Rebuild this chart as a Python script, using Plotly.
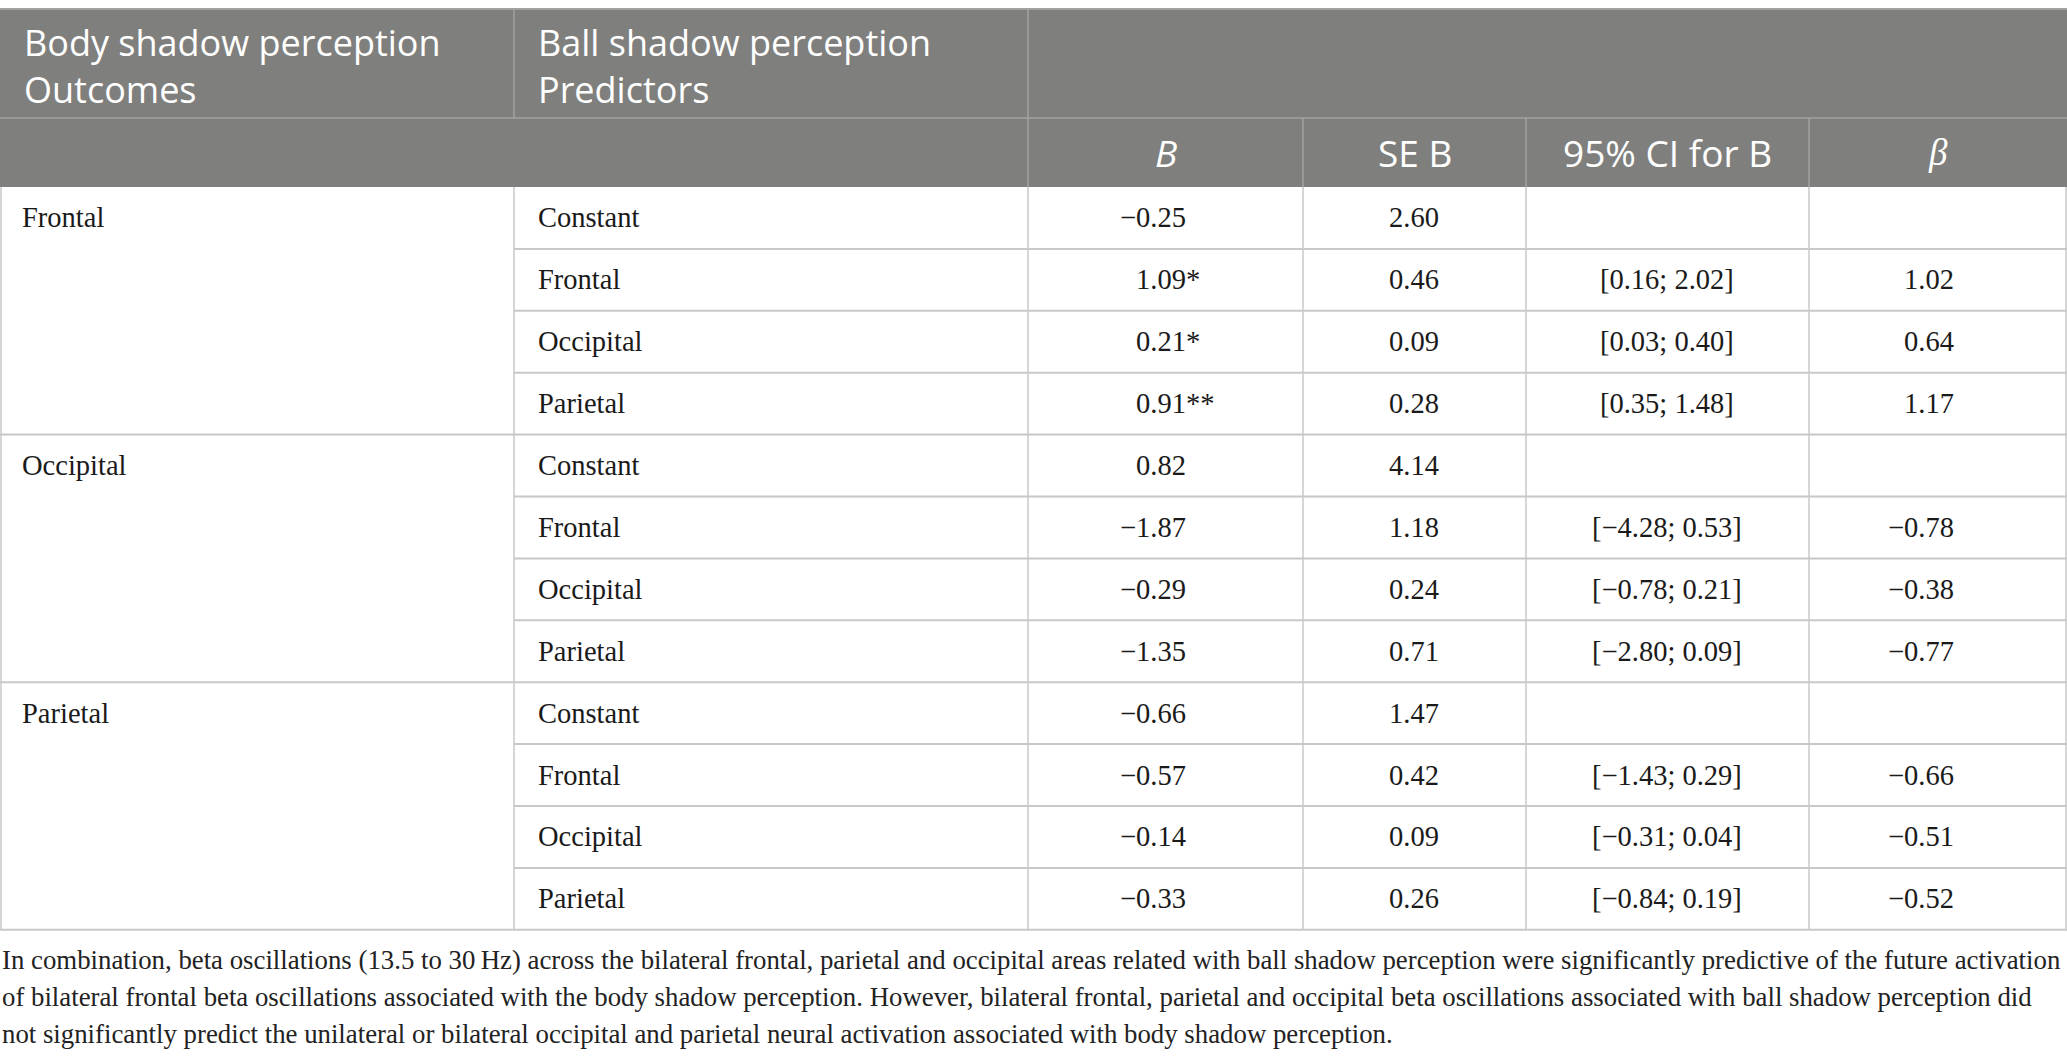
"""Regression table: ball shadow predictors of body shadow beta activity."""

import plotly.graph_objects as go

# --- data -----------------------------------------------------------------
outcomes = ["Frontal", "Occipital", "Parietal"]
predictors = ["Constant", "Frontal", "Occipital", "Parietal"]

b_values = [-0.25, 1.09, 0.21, 0.91, 0.82, -1.87, -0.29, -1.35, -0.66, -0.57, -0.14, -0.33]
b_stars = ["", "*", "*", "**", "", "", "", "", "", "", "", ""]
se_b = [2.60, 0.46, 0.09, 0.28, 4.14, 1.18, 0.24, 0.71, 1.47, 0.42, 0.09, 0.26]
ci_low = [None, 0.16, 0.03, 0.35, None, -4.28, -0.78, -2.80, None, -1.43, -0.31, -0.84]
ci_high = [None, 2.02, 0.40, 1.48, None, 0.53, 0.21, 0.09, None, 0.29, 0.04, 0.19]
beta = [None, 1.02, 0.64, 1.17, None, -0.78, -0.38, -0.77, None, -0.66, -0.51, -0.52]

group_headers = [
    ["Body shadow perception", "Outcomes"],
    ["Ball shadow perception", "Predictors"],
]
stat_headers = ["<i>B</i>", "SE B", "95% CI for B", "<i>β</i>"]

footnote = [
    "In combination, beta oscillations (13.5 to 30\u2009Hz) across the bilateral frontal, "
    "parietal and occipital areas related with ball shadow perception were significantly "
    "predictive of the future activation",
    "of bilateral frontal beta oscillations associated with the body shadow perception. "
    "However, bilateral frontal, parietal and occipital beta oscillations associated with "
    "ball shadow perception did",
    "not significantly predict the unilateral or bilateral occipital and parietal neural "
    "activation associated with body shadow perception.",
]

# --- layout / style -------------------------------------------------------
W, H = 2067, 1062
COL_EDGES = [0, 514, 1028, 1303, 1526, 1809, 2066]
TOP, HEAD1, HEAD2 = 9, 118, 187
ROW_H = 61.9

HEAD_BG = "#7f807e"
HEAD_LINE = "#a2a3a1"
GRID = "#c8c8c8"
SANS = "Open Sans"
SERIF = "Liberation Serif"


def fmt(v: float | None) -> str:
    """Two decimals with a typographic minus sign."""
    if v is None:
        return ""
    return f"{v:.2f}".replace("-", "\u2212")


def line(x0: float, y0: float, x1: float, y1: float, color: str, width: float = 1) -> dict:
    return dict(type="line", x0=x0, y0=y0, x1=x1, y1=y1,
                line=dict(color=color, width=width), layer="above")


def text(x: float, y: float, s: str, anchor: str = "center", size: float = 28.5,
         family: str = SERIF, color: str = "#1a1a1a") -> dict:
    return dict(x=x, y=y, text=s, showarrow=False, xanchor=anchor, yanchor="middle",
                align=anchor if anchor != "center" else "center",
                font=dict(family=family, size=size, color=color))


def row_mid(i: int) -> float:
    return HEAD2 + ROW_H * (i + 0.5)


shapes: list[dict] = []
annotations: list[dict] = []

# header background + rules
shapes.append(dict(type="rect", x0=0, x1=W, y0=TOP, y1=HEAD2, fillcolor=HEAD_BG,
                   line=dict(width=0), layer="below"))
shapes.append(line(0, TOP, W, TOP, HEAD_LINE, 2))
shapes.append(line(0, HEAD1, W, HEAD1, HEAD_LINE, 1.5))
for x in COL_EDGES[1:3]:
    shapes.append(line(x, TOP, x, HEAD1, HEAD_LINE, 1.5))
for x in COL_EDGES[2:6]:
    shapes.append(line(x, HEAD1, x, HEAD2, HEAD_LINE, 1.5))

# body grid
n_rows = len(b_values)
bottom = HEAD2 + ROW_H * n_rows
for k in range(1, n_rows + 1):
    y = HEAD2 + ROW_H * k
    x0 = 0 if k % len(predictors) == 0 else COL_EDGES[1]
    shapes.append(line(x0, y, W, y, GRID, 2))
for x in COL_EDGES:
    xx = max(x, 1)
    shapes.append(line(xx, HEAD2, xx, bottom, GRID, 1.5))

# header text (two-line group labels as one wrapped text each)
for c, lines in enumerate(group_headers):
    annotations.append(text(COL_EDGES[c] + 22, 66, "<br>".join(lines), "left", 36, SANS, "white"))
for c, s in enumerate(stat_headers):
    cx = (COL_EDGES[c + 2] + COL_EDGES[c + 3]) / 2
    fam = SERIF if "β" in s else SANS
    annotations.append(text(cx, 152, s, "center", 37, fam, "white"))

# body text
for g, name in enumerate(outcomes):
    annotations.append(text(20, row_mid(g * len(predictors)), name, "left"))
for i in range(n_rows):
    y = row_mid(i)
    annotations.append(text(536, y, predictors[i % len(predictors)], "left"))
    annotations.append(text(1188, y, fmt(b_values[i]), "right"))
    if b_stars[i]:
        annotations.append(text(1184, y, b_stars[i], "left"))
    annotations.append(text(1414, y, fmt(se_b[i])))
    if ci_low[i] is not None:
        annotations.append(text(1667, y, f"[{fmt(ci_low[i])}; {fmt(ci_high[i])}]"))
    annotations.append(text(1956, y, fmt(beta[i]), "right"))

# footnote
for j, s in enumerate(footnote):
    annotations.append(text(0, 960 + 37 * j, s, "left", 26.8, SERIF, "#222222"))

fig = go.Figure()
fig.add_trace(go.Scatter(x=[0, W], y=[0, H], mode="markers",
                         marker=dict(opacity=0), hoverinfo="skip", showlegend=False))
fig.update_layout(
    width=W,
    height=H,
    margin=dict(l=0, r=0, t=0, b=0),
    paper_bgcolor="white",
    plot_bgcolor="white",
    xaxis=dict(range=[0, W], visible=False, fixedrange=True),
    yaxis=dict(range=[H, 0], visible=False, fixedrange=True),
    shapes=shapes,
    annotations=annotations,
    showlegend=False,
)
# drop the default page margin so the table sits flush like the reference
fig.write_html(
    "out.html",
    config={"displayModeBar": False},
    post_script="document.body.style.margin = '0';",
)
